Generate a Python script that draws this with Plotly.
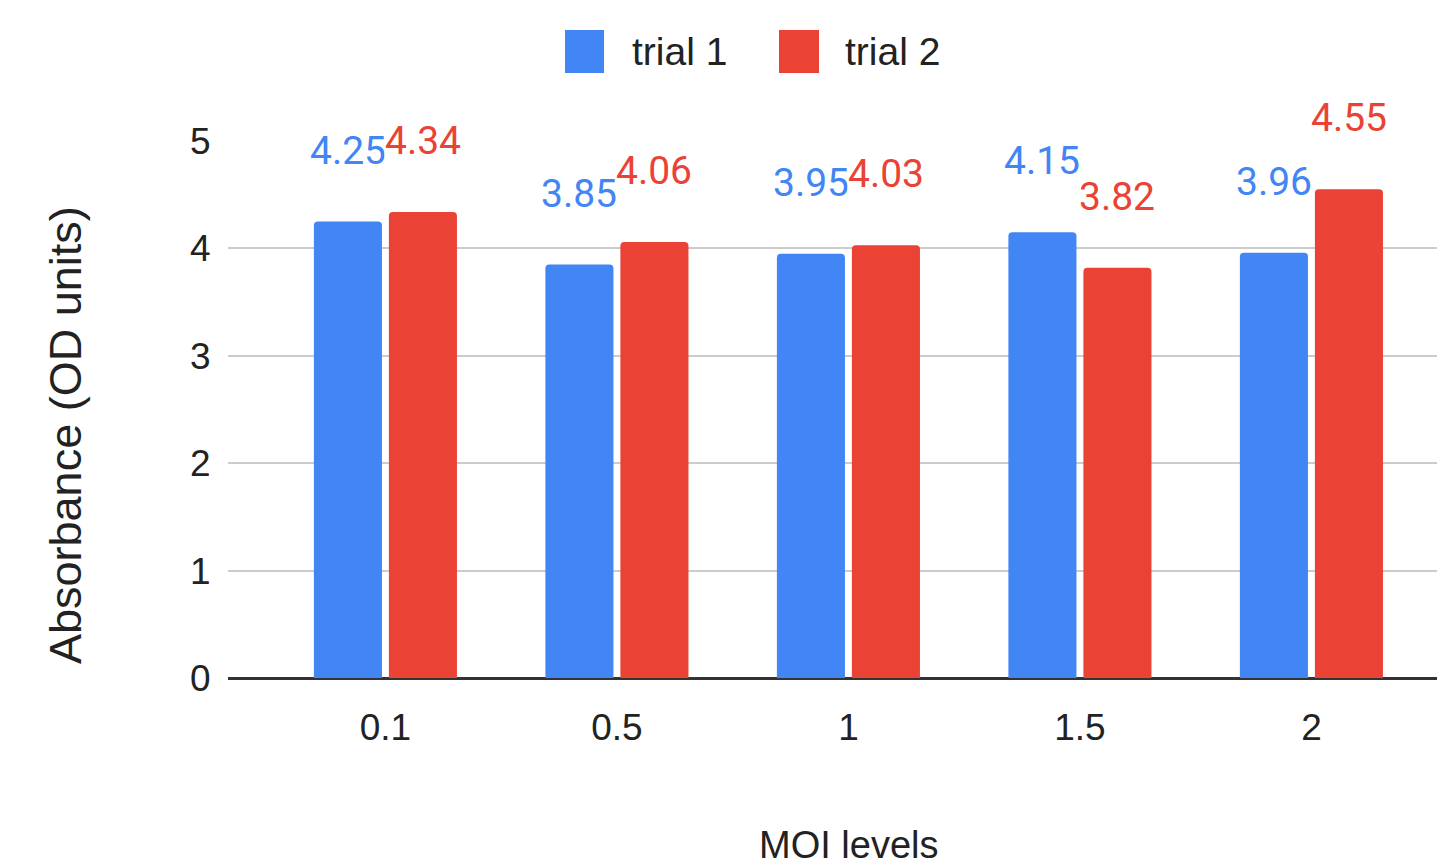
import plotly.graph_objects as go

categories = ["0.1", "0.5", "1", "1.5", "2"]
trial1 = [4.25, 3.85, 3.95, 4.15, 3.96]
trial2 = [4.34, 4.06, 4.03, 3.82, 4.55]
labels1 = ["4.25", "3.85", "3.95", "4.15", "3.96"]
labels2 = ["4.34", "4.06", "4.03", "3.82", "4.55"]
series_names = ["trial 1", "trial 2"]

BLUE = "#4285F4"
RED = "#EA4335"
PAGE_OFF = 8  # default body margin of the html page
W, H = 1445 - PAGE_OFF, 867 - PAGE_OFF
L, R, T, B = 228 - PAGE_OFF, 0, 141 - PAGE_OFF, 189
PW, PH = W - L - R, H - T - B

xpos = list(range(len(categories)))
bw = 0.294
offs = [-0.309, 0.015]

fig = go.Figure()
for vals, col, off, name in [(trial1, BLUE, offs[0], series_names[0]), (trial2, RED, offs[1], series_names[1])]:
    fig.add_trace(go.Bar(x=xpos, y=vals, width=bw, offset=off, marker=dict(color=col, line=dict(width=0)),
                         name=name, showlegend=False, hoverinfo="y"))

annotations = []
for vals, labs, col, off in [(trial1, labels1, BLUE, offs[0]), (trial2, labels2, RED, offs[1])]:
    for xi, v, t in zip(xpos, vals, labs):
        annotations.append(dict(x=xi + off + bw / 2, y=v, xref="x", yref="y", text=t, showarrow=False,
                                yshift=71, xanchor="center", yanchor="middle",
                                font=dict(family="Roboto", size=39, color=col),
                                bgcolor="white", borderpad=0))

# helpers converting screenshot pixels to paper coordinates
def px2paper_x(px):
    return (px - PAGE_OFF - L) / PW

def px2paper_y(py):
    return (H + PAGE_OFF - B - py) / PH

# axis titles
annotations.append(dict(x=px2paper_x(848), y=px2paper_y(845), xref="paper", yref="paper", text="MOI levels",
                        showarrow=False, xanchor="center", yanchor="middle",
                        font=dict(family="Liberation Sans, Arial", size=38, color="#222222")))
annotations.append(dict(x=px2paper_x(65), y=px2paper_y(435), xref="paper", yref="paper",
                        text="Absorbance (OD units)", textangle=-90,
                        showarrow=False, xanchor="center", yanchor="middle",
                        font=dict(family="Liberation Sans, Arial", size=45, color="#222222")))

# manual legend
shapes = []
legend_items = [(series_names[0], BLUE, 565, 604, 630), (series_names[1], RED, 779, 819, 843)]
for name, col, x0, x1, tx in legend_items:
    shapes.append(dict(type="rect", xref="paper", yref="paper",
                       x0=px2paper_x(x0), x1=px2paper_x(x1), y0=px2paper_y(73), y1=px2paper_y(30),
                       fillcolor=col, line=dict(width=0), layer="above"))
    annotations.append(dict(x=px2paper_x(tx), y=px2paper_y(51), xref="paper", yref="paper", text=name,
                            showarrow=False, xanchor="left", yanchor="middle",
                            font=dict(family="Liberation Sans, Arial", size=39, color="#222222")))

fig.update_layout(
    width=W, height=H,
    margin=dict(l=L, r=R, t=T, b=B, pad=0),
    paper_bgcolor="white", plot_bgcolor="white",
    barcornerradius=4,
    showlegend=False,
    annotations=annotations,
    shapes=shapes,
    xaxis=dict(range=[-0.680, 4.577], tickvals=xpos, ticktext=categories, showgrid=False, zeroline=False,
               ticks="outside", ticklen=17, tickcolor="rgba(0,0,0,0)", showline=False,
               tickfont=dict(family="Liberation Sans, Arial", size=37, color="#222222")),
    yaxis=dict(range=[0, 5], tickvals=[0, 1, 2, 3, 4, 5], showgrid=True, gridcolor="#CCCCCC", gridwidth=2,
               zeroline=True, zerolinecolor="#333333", zerolinewidth=3,
               ticks="outside", ticklen=9, tickcolor="rgba(0,0,0,0)",
               tickfont=dict(family="Liberation Sans, Arial", size=37, color="#222222")),
)

fig.write_html("out.html")
